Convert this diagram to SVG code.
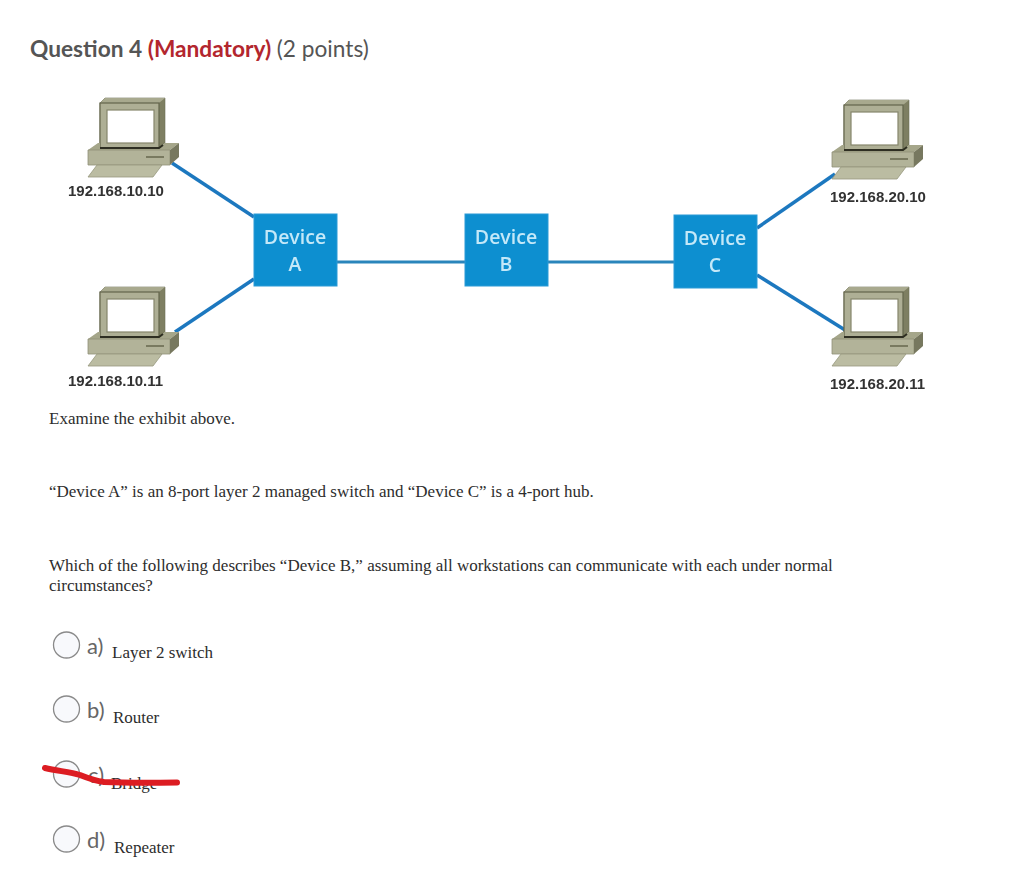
<svg xmlns="http://www.w3.org/2000/svg" width="1027" height="895" viewBox="0 0 1027 895">
<style>
.h{font-family:"Lato","Open Sans",sans-serif;font-size:22.7px;font-weight:700;fill:#555}
.s{font-family:"Liberation Serif",serif;font-size:17px;fill:#2d2d2d}
.ip{font-family:"Liberation Sans",sans-serif;font-size:15px;font-weight:700;fill:#333}
.dev{fill:#0d8fd0;stroke:#2a9ad6;stroke-width:1}
.dt{font-family:"Open Sans",sans-serif;font-size:19.500px;font-weight:600;fill:#c4e8f8;text-anchor:middle}
.link{fill:none;stroke:#1f78bf;stroke-width:3.500}
.mid{fill:none;stroke:#2b85bb;stroke-width:3}
.radio{fill:#f8f9fc;stroke:#8a8a8a;stroke-width:1.300}
.opt{font-family:"Lato","Open Sans",sans-serif;font-size:22px;fill:#666}
</style>
<defs>
<filter id="soft" x="-5%" y="-5%" width="110%" height="110%"><feGaussianBlur stdDeviation="0.5"/></filter>
<g id="pc">
<path d="M12 5L17 0H77V45L71 50H12Z" fill="#7e7f62" stroke="#6d6e55" stroke-width=".6"/>
<path d="M12 5L17 0H77L71 5Z" fill="#a8a98e"/>
<rect x="12" y="5" width="59" height="45" fill="#aeaf95" stroke="#63644c" stroke-width="1.200"/>
<rect x="19" y="12" width="47" height="33" fill="#fff" stroke="#85866c" stroke-width="1.200"/>
<path d="M10 45H12V50H71L77 45H91L82 52H0Z" fill="#a5a68a"/>
<path d="M12 50H71L75 47" fill="none" stroke="#2e2f20" stroke-width="2"/>
<path d="M0 52H82V67H0Z" fill="#b2b399" stroke="#8f9076" stroke-width=".8"/>
<path d="M82 52L91 45V59L82 67Z" fill="#77785e"/>
<path d="M58 59H76" stroke="#66674e" stroke-width="1.500"/>
<path d="M9 67H74L65 79H0Z" fill="#bbbca2" stroke="#97987e" stroke-width=".8"/>
</g>
</defs>
<rect width="1027" height="895" fill="#fff"/>
<text x="30" y="57" class="h">Question 4 <tspan fill="#b3262e">(Mandatory)</tspan> <tspan font-weight="400">(2 points)</tspan></text>
<g id="connectors" filter="url(#soft)">
<path class="link" d="M172 163L254 217"/>
<path class="link" d="M175 332L254 279"/>
<path class="mid" d="M337 262H465"/>
<path class="mid" d="M548 262H674"/>
<path class="link" d="M757 228L835 174"/>
<path class="link" d="M757 275L845 330"/>
</g>
<g id="pc-10-10" filter="url(#soft)"><use href="#pc" x="88" y="98"/><text x="68" y="196" class="ip">192.168.10.10</text></g>
<g id="pc-10-11" filter="url(#soft)"><use href="#pc" x="88" y="287"/><text x="68" y="386" class="ip">192.168.10.11</text></g>
<g id="pc-20-10" filter="url(#soft)"><use href="#pc" x="832" y="100"/><text x="830" y="202" class="ip">192.168.20.10</text></g>
<g id="pc-20-11" filter="url(#soft)"><use href="#pc" x="832" y="287"/><text x="830" y="389" class="ip">192.168.20.11</text></g>
<g id="device-a" filter="url(#soft)"><rect class="dev" x="254" y="214" width="83" height="72"/><text class="dt" x="295" y="244">Device</text><text class="dt" x="295" y="271">A</text></g>
<g id="device-b" filter="url(#soft)"><rect class="dev" x="465" y="214" width="83" height="72"/><text class="dt" x="506" y="244">Device</text><text class="dt" x="506" y="271">B</text></g>
<g id="device-c" filter="url(#soft)"><rect class="dev" x="674" y="215" width="83" height="73"/><text class="dt" x="715" y="245">Device</text><text class="dt" x="715" y="272">C</text></g>
<text x="49" y="424" class="s">Examine the exhibit above.</text>
<text x="49" y="497" class="s">“Device A” is an 8-port layer 2 managed switch and “Device C” is a 4-port hub.</text>
<text x="49" y="571" class="s">Which of the following describes “Device B,” assuming all workstations can communicate with each under normal</text>
<text x="49" y="591" class="s">circumstances?</text>
<g id="option-a"><circle class="radio" cx="66.500" cy="645" r="13"/><text x="87" y="654" class="opt">a)</text><text x="112" y="658" class="s">Layer 2 switch</text></g>
<g id="option-b"><circle class="radio" cx="66.500" cy="709" r="13"/><text x="87" y="718" class="opt">b)</text><text x="113" y="723" class="s">Router</text></g>
<g id="option-c"><circle class="radio" cx="66.500" cy="774" r="13"/><text x="88" y="783" class="opt">c)</text><text x="111" y="789" class="s">Bridge</text></g>
<g id="option-d"><circle class="radio" cx="66.500" cy="839" r="13"/><text x="87" y="848" class="opt">d)</text><text x="114" y="853" class="s">Repeater</text></g>
<path id="scribble" d="M45 768C58 771 70 772 80 775C90 779 96 781 104 782C125 783 150 783 177 782.500" fill="none" stroke="#dc1c22" stroke-width="6" stroke-linecap="round"/>
</svg>
